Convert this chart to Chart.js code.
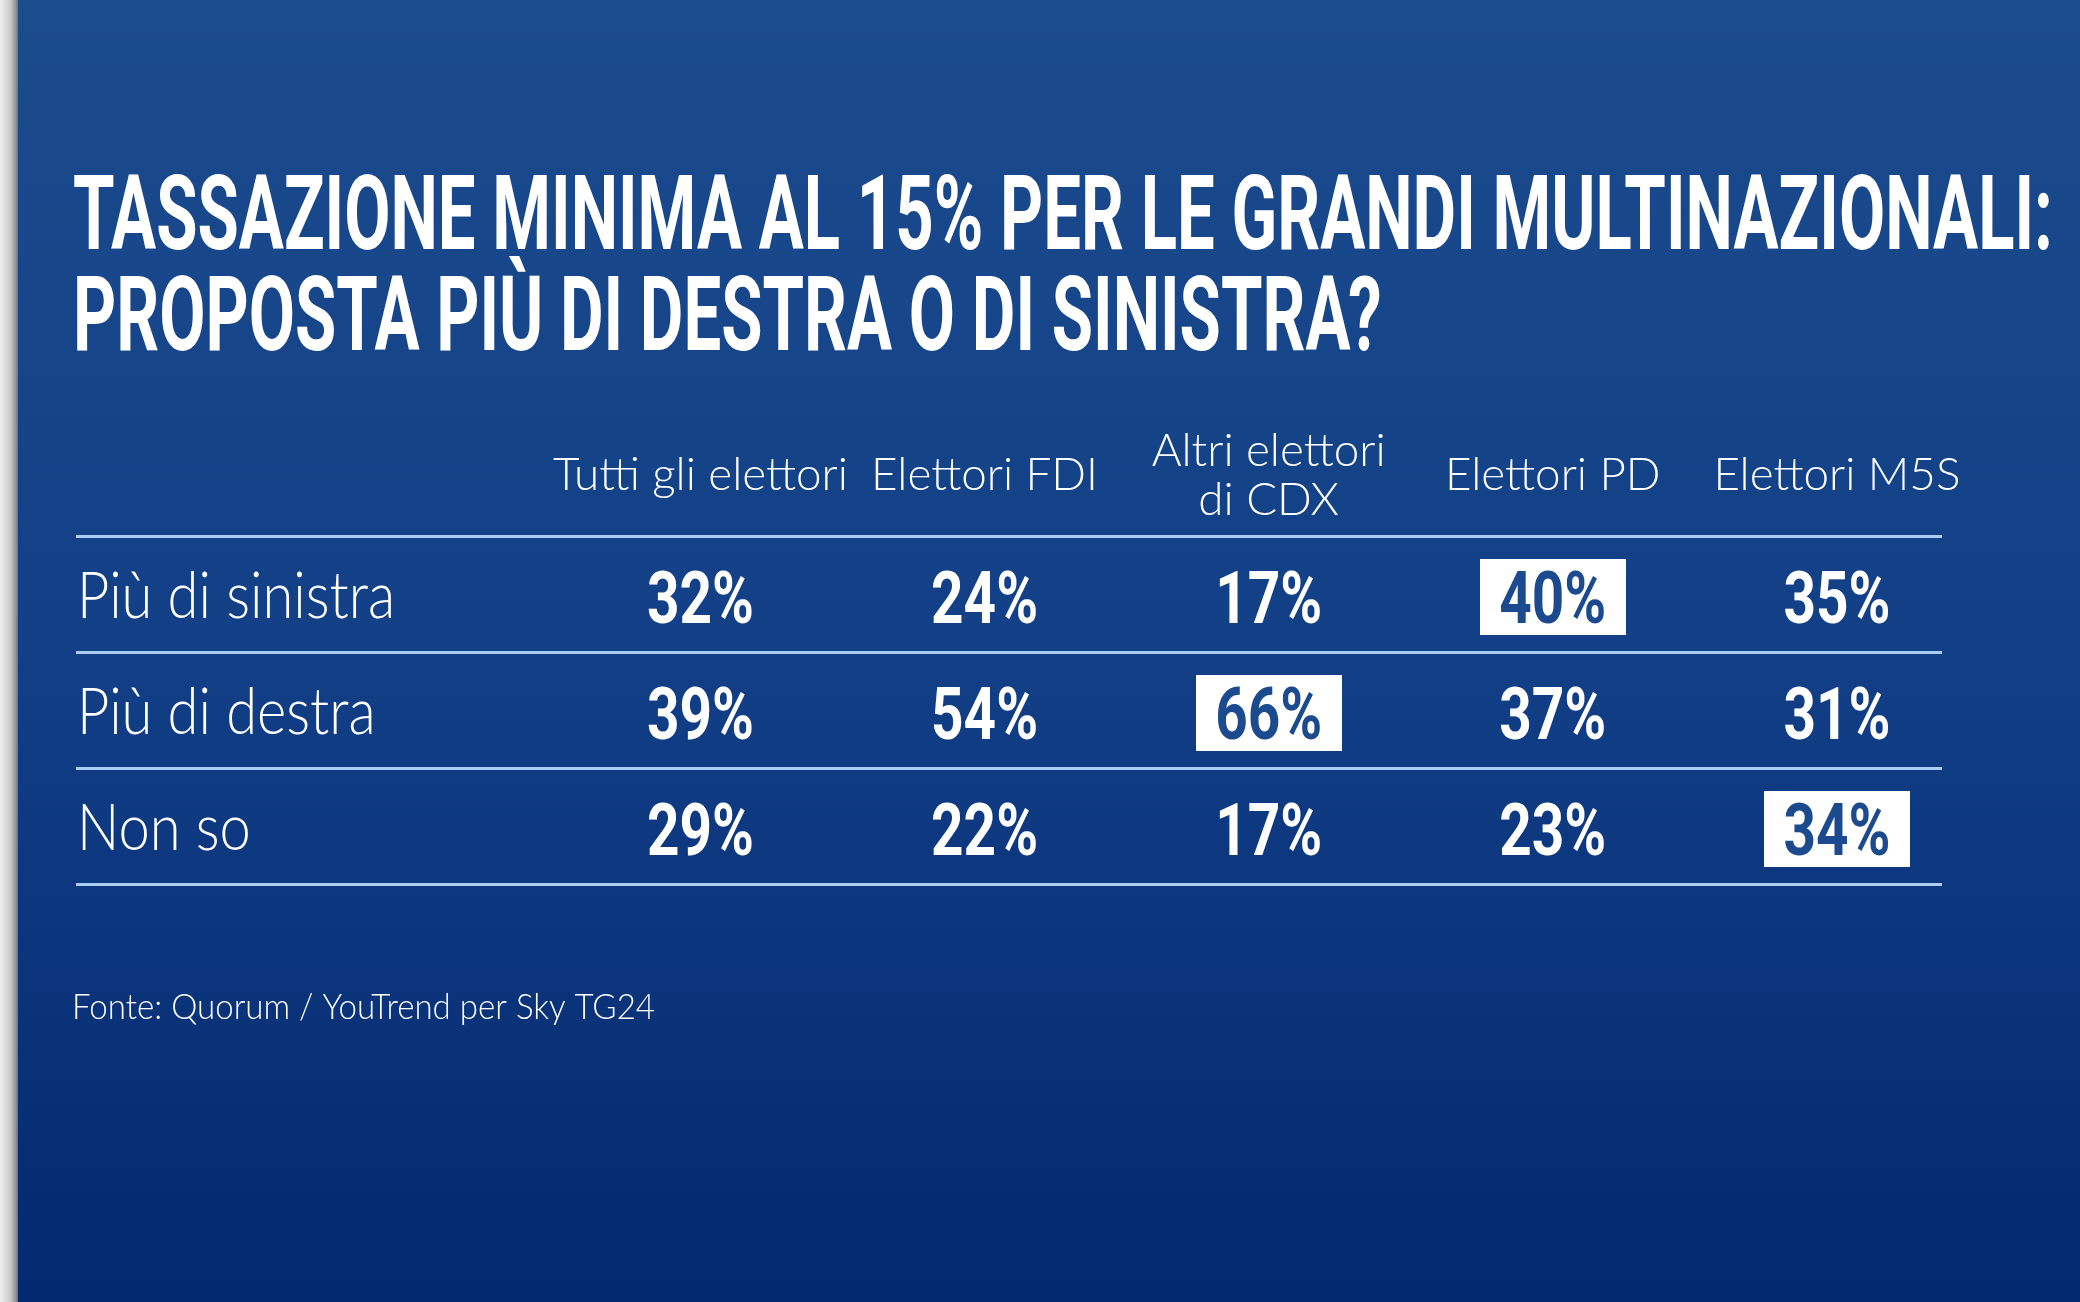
<!DOCTYPE html>
<html>
<head>
<meta charset="utf-8">
<script src="https://cdn.jsdelivr.net/npm/chart.js@4/dist/chart.umd.min.js"></script>
<style>
html,body{margin:0;padding:0;background:#0d3a80;overflow:hidden;}
canvas{display:block;}
</style>
</head>
<body>
<canvas id="c" width="2080" height="1302"></canvas>
<script>
// ---- data ----
const titleLines = ['TASSAZIONE MINIMA AL 15% PER LE GRANDI MULTINAZIONALI:', 'PROPOSTA PIÙ DI DESTRA O DI SINISTRA?'];
const groups = ['Tutti gli elettori', 'Elettori FDI', ['Altri elettori', 'di CDX'], 'Elettori PD', 'Elettori M5S'];
const answers = ['Più di sinistra', 'Più di destra', 'Non so'];
const piuDiSinistra = [32, 24, 17, 40, 35];
const piuDiDestra = [39, 54, 66, 37, 31];
const nonSo = [29, 22, 17, 23, 34];
const highlightedCol = [3, 2, 4]; // highlighted group for each answer row
const source = 'Fonte: Quorum / YouTrend per Sky TG24';

const rowValues = [piuDiSinistra, piuDiDestra, nonSo];

// ---- styles ----
const ST = {
  title:  {family: 'Roboto', weight: 'bold', cap: 74, capRatio: 0.711, ref: titleLines[0], target: 1980},
  number: {family: 'Roboto', weight: 'bold', cap: 51, capRatio: 0.711, ref: '40%', target: 107},
  header: {family: 'Lato', weight: '300', cap: 32, capRatio: 0.7165, ref: 'Tutti gli elettori', target: 295},
  row:    {family: 'Lato', weight: '300', cap: 46, capRatio: 0.7165, ref: 'Più di sinistra', target: 318},
  footer: {family: 'Lato', weight: '300', cap: 25, capRatio: 0.7165, ref: source, target: 583}
};
const WHITE = '#ffffff';
const BOX_TEXT = '#1b4a8e';
const RULE = '#a9cdf5';

function setFont(ctx, st) {
  ctx.font = st.weight + ' ' + (st.cap / st.capRatio).toFixed(2) + 'px "' + st.family + '"';
}
function sxOf(ctx, st) {
  setFont(ctx, st);
  return st.target / ctx.measureText(st.ref).width;
}
function drawText(ctx, text, x, capCenter, st, align, color) {
  const sx = sxOf(ctx, st);
  setFont(ctx, st);
  ctx.save();
  ctx.translate(x, capCenter + st.cap / 2);
  ctx.scale(sx, 1);
  ctx.textAlign = align;
  ctx.textBaseline = 'alphabetic';
  ctx.fillStyle = color;
  ctx.fillText(text, 0, 0);
  ctx.restore();
}

const backgroundPlugin = {
  id: 'bg',
  beforeDraw(chart) {
    const ctx = chart.ctx, w = chart.width, h = chart.height;
    ctx.save();
    const g = ctx.createLinearGradient(0, 0, 0, h);
    g.addColorStop(0, '#1b4c8d');
    g.addColorStop(0.5, '#123f86');
    g.addColorStop(1, '#032970');
    ctx.fillStyle = g;
    ctx.fillRect(0, 0, w, h);
    const s = ctx.createLinearGradient(0, 0, 18, 0);
    s.addColorStop(0, '#f0f0f0');
    s.addColorStop(0.6, '#c9c9c9');
    s.addColorStop(0.9, '#8f8f8f');
    s.addColorStop(1, '#5c6f90');
    ctx.fillStyle = s;
    ctx.fillRect(0, 0, 18, h);
    ctx.restore();
  }
};

const tablePlugin = {
  id: 'table',
  afterDatasetsDraw(chart) {
    const ctx = chart.ctx;
    const xs = chart.scales.x, ys = chart.scales.y;
    const area = chart.chartArea;
    // title
    drawText(ctx, titleLines[0], 73, 211.5, ST.title, 'left', WHITE);
    drawText(ctx, titleLines[1], 73, 312.5, ST.title, 'left', WHITE);
    // column headers (header band = category index 0)
    const hy = ys.getPixelForValue(0);
    groups.forEach((g, i) => {
      const x = xs.getPixelForValue(i);
      const lines = Array.isArray(g) ? g : [g];
      const gap = 49;
      lines.forEach((ln, k) => {
        const cy = hy - 4 + (k - (lines.length - 1) / 2) * gap;
        drawText(ctx, ln, x, cy, ST.header, 'center', WHITE);
      });
    });
    // row labels
    answers.forEach((a, r) => {
      drawText(ctx, a, area.left + 1, ys.getPixelForValue(r + 1) + 1, ST.row, 'left', WHITE);
    });
    // cells
    chart.data.datasets.forEach((ds, r) => {
      const meta = chart.getDatasetMeta(r);
      meta.data.forEach((el, i) => {
        const cy = el.y + 3;
        const txt = ds.data[i].v + '%';
        const hl = highlightedCol[r] === i;
        if (hl) {
          ctx.fillStyle = WHITE;
          ctx.fillRect(Math.round(el.x - 73), Math.round(cy - 38), 146, 76);
        }
        drawText(ctx, txt, el.x, cy, ST.number, 'center', hl ? BOX_TEXT : WHITE);
      });
    });
    // source
    drawText(ctx, source, 72, 1006, ST.footer, 'left', WHITE);
  }
};

new Chart(document.getElementById('c'), {
  type: 'scatter',
  data: {
    datasets: answers.map((a, r) => ({
      label: a,
      data: rowValues[r].map((v, i) => ({x: i, y: a, v: v})),
      pointRadius: 0,
      pointHoverRadius: 0,
      showLine: false
    }))
  },
  options: {
    responsive: false,
    animation: false,
    devicePixelRatio: 1,
    events: [],
    layout: {padding: {left: 76, right: 138, top: 420, bottom: 418}},
    plugins: {legend: {display: false}, tooltip: {enabled: false}, title: {display: false}},
    scales: {
      x: {type: 'linear', display: false, min: -2.198, max: 4.37},
      y: {
        type: 'category',
        labels: [''].concat(answers),
        offset: true,
        ticks: {display: false},
        border: {display: false},
        grid: {
          offset: true,
          drawTicks: false,
          lineWidth: 3,
          color: (c) => c.index === 0 ? 'rgba(0,0,0,0)' : RULE
        }
      }
    }
  },
  plugins: [backgroundPlugin, tablePlugin]
});
</script>
</body>
</html>
